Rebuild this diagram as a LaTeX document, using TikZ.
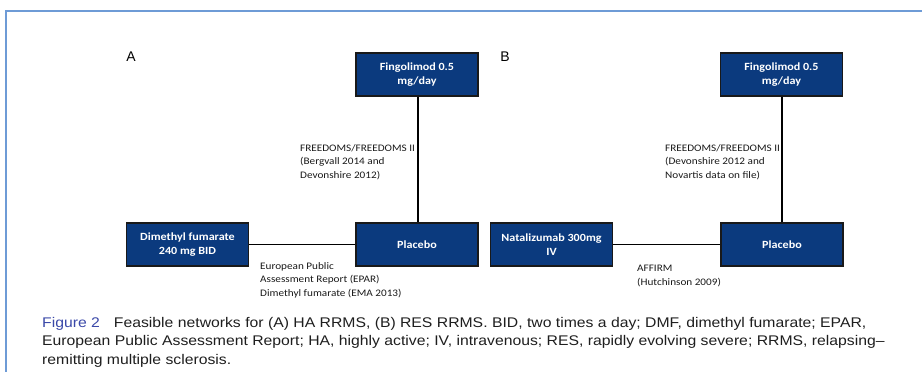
\documentclass[tikz,border=0pt]{standalone}
\usepackage{fontspec}
\setmainfont{Carlito}
\newfontfamily\boxfont[FakeStretch=1.1]{Carlito}
\newfontfamily\labfont[FakeStretch=1.12]{Carlito}
\newfontfamily\capfont[FakeStretch=1.125]{Liberation Sans}
\newfontfamily\letterfont{Liberation Sans}
\definecolor{boxblue}{HTML}{0B3A7E}
\definecolor{frameblue}{HTML}{6E9BD6}
\definecolor{figblue}{HTML}{3A48A8}
\definecolor{captxt}{HTML}{1E1E1E}
\tikzset{
  x=1pt, y=-1pt,
  drug/.style={draw=black!90, line width=1.6pt, fill=boxblue, text=white,
    minimum width=122pt, minimum height=43pt, inner sep=0pt,
    align=center, font=\boxfont\fontsize{11}{14.5}\selectfont\bfseries},
  link/.style={draw=black, line width=1.8pt},
  lab/.style={anchor=north west, align=left, inner sep=0pt, text=black!90,
    font=\labfont\fontsize{10}{13.5}\selectfont},
  panel/.style={font=\letterfont\fontsize{14}{16}\selectfont},
}
\begin{document}
\begin{tikzpicture}
\useasboundingbox (0,0) rectangle (922,372);
% frame
\draw[frameblue, line width=2pt] (6,372) -- (6,10.5) -- (922,10.5);
% panel letters
\node[panel] (pa) at (131,57) {A};
\node[panel] (pb) at (505,57) {B};
% panel A
\node[drug] (fa) at (417,74.5) {Fingolimod 0.5\\mg/day};
\node[drug] (pla) at (417,244.5) {Placebo};
\node[drug] (dmf) at (187.5,244.5) {Dimethyl fumarate\\240 mg BID};
\draw[link] (fa.south -| 418,0) -- (pla.north -| 418,0);
\draw[link] (dmf) -- (pla);
\node[lab] (la1) at (300,144) {FREEDOMS/FREEDOMS II\\(Bergvall 2014 and\\Devonshire 2012)};
\node[lab] (la2) at (260,262) {European Public\\Assessment Report (EPAR)\\Dimethyl fumarate (EMA 2013)};
% panel B
\node[drug] (fb) at (781.5,74.5) {Fingolimod 0.5\\mg/day};
\node[drug] (plb) at (782,244.5) {Placebo};
\node[drug] (nat) at (551.5,244.5) {Natalizumab 300mg\\IV};
\draw[link] (fb.south -| 782,0) -- (plb.north -| 782,0);
\draw[link] (nat) -- (plb);
\node[lab] (lb1) at (665,144) {FREEDOMS/FREEDOMS II\\(Devonshire 2012 and\\Novartis data on file)};
\node[lab] (lb2) at (637,265) {AFFIRM\\(Hutchinson 2009)};
% caption
\node[anchor=north west, align=left, inner sep=0pt, text=captxt,
  font=\capfont\fontsize{14}{18.5}\selectfont] (cap) at (42,317)
 {{\color{figblue}Figure 2}\quad Feasible networks for (A) HA RRMS, (B) RES RRMS. BID, two times a day; DMF, dimethyl fumarate; EPAR,\\
  European Public Assessment Report; HA, highly active; IV, intravenous; RES, rapidly evolving severe; RRMS, relapsing\textendash\\
  remitting multiple sclerosis.};
\end{tikzpicture}
\end{document}
